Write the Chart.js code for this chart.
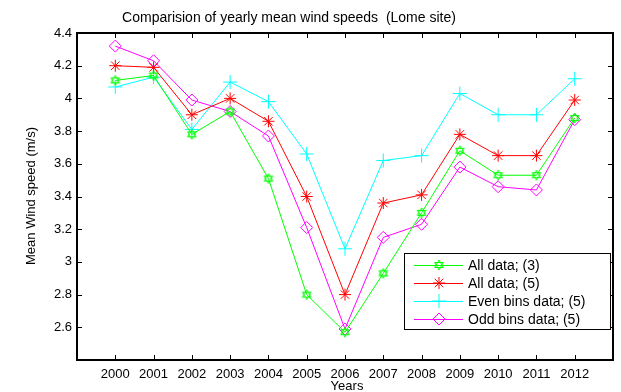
<!DOCTYPE html>
<html>
<head>
<meta charset="utf-8">
<script src="https://cdn.jsdelivr.net/npm/chart.js@4.4.0/dist/chart.umd.min.js"></script>
<style>
html, body { margin: 0; padding: 0; background: #fff; }
#wrap { width: 621px; height: 392px; }
</style>
</head>
<body>
<div id="wrap"><canvas id="myChart" width="621" height="392"></canvas></div>
<script>
const years = [2000, 2001, 2002, 2003, 2004, 2005, 2006, 2007, 2008, 2009, 2010, 2011, 2012];
const allData3 = [4.11, 4.14, 3.78, 3.92, 3.51, 2.80, 2.57, 2.93, 3.30, 3.68, 3.53, 3.53, 3.88];
const allData5 = [4.20, 4.19, 3.90, 4.00, 3.86, 3.40, 2.80, 3.36, 3.41, 3.78, 3.65, 3.65, 3.99];
const evenBins5 = [4.07, 4.13, 3.81, 4.10, 3.98, 3.66, 3.08, 3.62, 3.65, 4.03, 3.90, 3.90, 4.12];
const oddBins5 = [4.32, 4.23, 3.99, 3.92, 3.77, 3.21, 2.59, 3.15, 3.23, 3.58, 3.46, 3.44, 3.87];
const yTicks = [2.6, 2.8, 3, 3.2, 3.4, 3.6, 3.8, 4, 4.2, 4.4];

const FONT = '"Liberation Sans", Arial, sans-serif';

// hexagram marker for the green series
function hexagram(color, r) {
    const c = document.createElement('canvas');
    const s = r * 2 + 2;
    c.width = s; c.height = s;
    const g = c.getContext('2d');
    g.strokeStyle = color;
    g.lineWidth = 1;
    const cx = s / 2, cy = s / 2;
    for (let k = 0; k < 2; k++) {
        g.beginPath();
        for (let i = 0; i < 3; i++) {
            const a = -Math.PI / 2 + k * Math.PI + i * 2 * Math.PI / 3;
            const px = cx + r * Math.cos(a), py = cy + r * Math.sin(a);
            if (i === 0) g.moveTo(px, py); else g.lineTo(px, py);
        }
        g.closePath();
        g.stroke();
    }
    return c;
}
const hexGreen = hexagram('#00ff00', 5);

function pts(arr) {
    return arr.map((v, i) => ({x: years[i], y: v}));
}

const series = [
    {label: 'All data; (3)', data: pts(allData3), borderColor: '#00ff00', pointStyle: hexGreen, pointRadius: 5},
    {label: 'All data; (5)', data: pts(allData5), borderColor: '#ff0000', pointStyle: 'star', pointRadius: 6},
    {label: 'Even bins data; (5)', data: pts(evenBins5), borderColor: '#00ffff', pointStyle: 'cross', pointRadius: 7},
    {label: 'Odd bins data; (5)', data: pts(oddBins5), borderColor: '#ff00ff', pointStyle: 'rectRot', pointRadius: 6}
];
series.forEach(s => {
    s.borderWidth = 1;
    s.pointBorderColor = s.borderColor;
    s.pointBackgroundColor = 'rgba(0,0,0,0)';
    s.pointBorderWidth = 1;
    s.tension = 0;
});

const matlabFrame = {
    id: 'matlabFrame',
    afterDraw(chart) {
        const c = chart.ctx;
        const a = chart.chartArea;
        const xs = chart.scales.x, ys = chart.scales.y;
        c.save();
        c.strokeStyle = '#000';
        c.lineWidth = 1;
        // ticks inward on all four sides
        c.beginPath();
        years.forEach(yr => {
            const px = Math.round(xs.getPixelForValue(yr)) + 0.5;
            c.moveTo(px, a.bottom); c.lineTo(px, a.bottom - 5);
            c.moveTo(px, a.top); c.lineTo(px, a.top + 5);
        });
        yTicks.forEach(v => {
            const py = Math.round(ys.getPixelForValue(v)) + 0.5;
            c.moveTo(a.left, py); c.lineTo(a.left + 5, py);
            c.moveTo(a.right, py); c.lineTo(a.right - 5, py);
        });
        c.stroke();
        c.lineWidth = 2;
        c.strokeRect(a.left, a.top, a.right - a.left, a.bottom - a.top);

        // title and axis labels
        c.fillStyle = '#000';
        c.font = '14px ' + FONT;
        c.textAlign = 'center';
        c.textBaseline = 'middle';
        c.fillText('Comparision of yearly mean wind speeds  (Lome site)', 289, 18);
        c.font = '13px ' + FONT;
        c.fillText('Years', 347, 386);
        c.save();
        c.translate(31, 196);
        c.rotate(-Math.PI / 2);
        c.fillText('Mean Wind speed (m/s)', 0, 0);
        c.restore();

        // legend inside the axes
        const lx = 404, ly = 253, lw = 206, lh = 76;
        c.fillStyle = '#fff';
        c.fillRect(lx, ly, lw, lh);
        c.lineWidth = 1;
        c.strokeStyle = '#000';
        c.strokeRect(lx + 0.5, ly + 0.5, lw, lh);
        chart.data.datasets.forEach((ds, i) => {
            const yy = ly + 12 + i * 18;
            c.strokeStyle = ds.borderColor;
            c.fillStyle = 'rgba(0,0,0,0)';
            c.lineWidth = 1;
            c.beginPath();
            c.moveTo(414, yy + 0.5); c.lineTo(463, yy + 0.5);
            c.stroke();
            Chart.helpers.drawPoint(c, {
                pointStyle: ds.pointStyle, radius: ds.pointRadius, borderWidth: 1, rotation: 0
            }, 439, yy);
            c.fillStyle = '#000';
            c.textAlign = 'left';
            c.font = '14px ' + FONT;
            c.fillText(ds.label, 468, yy + 1);
        });
        c.restore();
    }
};

const ctx = document.getElementById('myChart').getContext('2d');
new Chart(ctx, {
    type: 'line',
    data: {datasets: series},
    options: {
        responsive: false,
        animation: false,
        devicePixelRatio: 1,
        layout: {padding: {top: 33, right: 5, left: 0, bottom: 0}},
        plugins: {
            legend: {display: false},
            tooltip: {enabled: false}
        },
        scales: {
            x: {
                type: 'linear',
                min: 1999,
                max: 2013,
                grid: {display: false, drawTicks: false},
                border: {display: false},
                ticks: {
                    stepSize: 1,
                    padding: 7,
                    color: '#000',
                    font: {family: FONT, size: 13},
                    maxRotation: 0,
                    autoSkip: false,
                    callback: v => (v >= 2000 && v <= 2012) ? String(v) : ''
                },
                afterFit: s => { s.height = 32; }
            },
            y: {
                min: 2.4,
                max: 4.4,
                grid: {display: false, drawTicks: false},
                border: {display: false},
                afterBuildTicks: s => { s.ticks = yTicks.map(v => ({value: v})); },
                ticks: {
                    padding: 5,
                    color: '#000',
                    font: {family: FONT, size: 13},
                    callback: v => String(Math.round(v * 10) / 10)
                },
                afterFit: s => { s.width = 77; }
            }
        }
    },
    plugins: [matlabFrame]
});
</script>
</body>
</html>
